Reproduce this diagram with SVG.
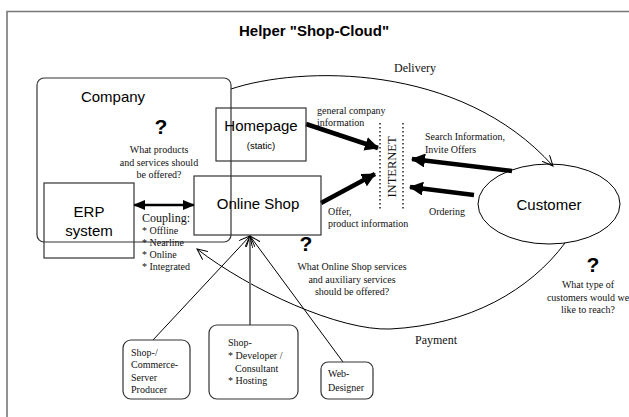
<svg xmlns="http://www.w3.org/2000/svg" width="629" height="417" viewBox="0 0 629 417">
<style>
.sans{font-family:"Liberation Sans",Arial,sans-serif;fill:#000}
.serif{font-family:"Liberation Serif","Times New Roman",serif;fill:#111}
.box{fill:none;stroke:#333;stroke-width:1.2}
.thick{stroke:#000;stroke-width:4.5;fill:none}
.thin{stroke:#000;stroke-width:1;fill:none}
.q{font-family:"Liberation Sans",Arial,sans-serif;font-weight:bold;font-size:21px;text-anchor:middle}
.s10{font-size:10px}
.mid{text-anchor:middle}
</style>
<defs>
<marker id="fat" markerUnits="userSpaceOnUse" viewBox="0 0 14 14" markerWidth="14" markerHeight="14" refX="13" refY="7" orient="auto"><path d="M0,0 L14,7 L0,14 z" fill="#000"/></marker>
<marker id="dbl" markerUnits="userSpaceOnUse" viewBox="0 0 12 10" markerWidth="12" markerHeight="10" refX="11" refY="5" orient="auto-start-reverse"><path d="M0,0 L12,5 L0,10 z" fill="#000"/></marker>
<marker id="open" markerUnits="userSpaceOnUse" viewBox="0 0 12 10" markerWidth="12" markerHeight="10" refX="11" refY="5" orient="auto"><path d="M0,0 L11,5 L0,10" fill="none" stroke="#000" stroke-width="1"/></marker>
</defs>
<path d="M7,417 V11.5 H629" fill="none" stroke="#777" stroke-width="1.6"/>
<text class="sans" x="314" y="36" font-size="15" font-weight="bold" text-anchor="middle">Helper "Shop-Cloud"</text>

<g id="connectors">
<path class="thin" d="M231,89 C300,66 460,62 553,166" marker-end="url(#open)"/>
<path class="thin" d="M565,243 C530,290 470,325 390,329 C340,331 250,290 197,249" marker-end="url(#open)"/>
<line class="thick" x1="306" y1="124" x2="378" y2="148" marker-end="url(#fat)"/>
<line class="thick" x1="321" y1="203" x2="375" y2="174" marker-end="url(#fat)"/>
<line class="thick" x1="512" y1="171" x2="412" y2="159" marker-end="url(#fat)"/>
<line class="thick" x1="474" y1="195" x2="410" y2="187" marker-end="url(#fat)"/>
<line x1="134" y1="205" x2="194" y2="205" stroke="#000" stroke-width="2.5" marker-start="url(#dbl)" marker-end="url(#dbl)"/>
<line class="thin" x1="153" y1="340" x2="250" y2="236" marker-end="url(#open)"/>
<line x1="250" y1="325" x2="250" y2="236" stroke="#777" stroke-width="2" marker-end="url(#open)"/>
<line class="thin" x1="343" y1="362" x2="250" y2="236" marker-end="url(#open)"/>
</g>

<g id="company">
<rect class="box" x="37" y="78" width="194" height="164" rx="7"/>
<text class="sans" x="113" y="102" font-size="15" text-anchor="middle">Company</text>
<text class="q" x="161" y="134">?</text>
<text class="serif s10 mid" x="159"><tspan x="159" y="153">What products</tspan><tspan x="159" y="166">and services should</tspan><tspan x="159" y="178">be offered?</tspan></text>
</g>

<g id="homepage">
<rect class="box" x="216" y="108" width="90" height="53"/>
<text class="sans" x="261" y="131" font-size="15" text-anchor="middle">Homepage</text>
<text class="sans" x="261" y="149" font-size="9.5" text-anchor="middle">(static)</text>
</g>

<g id="online-shop">
<rect class="box" x="194" y="176" width="127" height="59"/>
<text class="sans" x="258" y="209" font-size="15" text-anchor="middle">Online Shop</text>
<text class="q" x="306" y="251">?</text>
<text class="serif s10 mid"><tspan x="352" y="270">What Online Shop services</tspan><tspan x="352" y="283">and auxiliary services</tspan><tspan x="352" y="295">should be offered?</tspan></text>
</g>

<g id="erp">
<rect class="box" x="44" y="183" width="90" height="75"/>
<text class="sans" x="89" y="217" font-size="15" text-anchor="middle">ERP</text>
<text class="sans" x="89" y="236" font-size="15" text-anchor="middle">system</text>
</g>

<g id="coupling">
<text class="serif" x="142" y="222" font-size="12">Coupling:</text>
<text class="serif s10"><tspan x="142" y="234">* Offline</tspan><tspan x="142" y="246">* Nearline</tspan><tspan x="142" y="258">* Online</tspan><tspan x="142" y="270">* Integrated</tspan></text>
</g>

<g id="internet">
<line x1="380" y1="123" x2="380" y2="211" stroke="#222" stroke-width="1.5" stroke-dasharray="1.5,2.5"/>
<line x1="403" y1="123" x2="403" y2="211" stroke="#222" stroke-width="1.5" stroke-dasharray="1.5,2.5"/>
<text class="serif" transform="translate(396,167) rotate(-90)" font-size="12.5" text-anchor="middle">INTERNET</text>
</g>

<g id="labels">
<text class="serif s10"><tspan x="317" y="114">general company</tspan><tspan x="317" y="126">information</tspan></text>
<text class="serif s10"><tspan x="425" y="140">Search Information,</tspan><tspan x="425" y="153">Invite Offers</tspan></text>
<text class="serif s10"><tspan x="328" y="215">Offer,</tspan><tspan x="328" y="227">product information</tspan></text>
<text class="serif s10" x="429" y="215">Ordering</text>
<text class="serif" x="415" y="72" font-size="12" text-anchor="middle">Delivery</text>
<text class="serif" x="436" y="344" font-size="12" text-anchor="middle">Payment</text>
</g>

<g id="customer">
<ellipse cx="549" cy="204" rx="71" ry="40" fill="none" stroke="#000" stroke-width="1"/>
<text class="sans" x="549" y="210" font-size="15" text-anchor="middle">Customer</text>
<text class="q" x="593" y="272">?</text>
<text class="serif s10 mid"><tspan x="588" y="288">What type of</tspan><tspan x="588" y="301">customers would we</tspan><tspan x="588" y="313">like to reach?</tspan></text>
</g>

<g id="server-producer">
<rect class="box" x="123" y="340" width="67" height="59" rx="8"/>
<text class="serif s10"><tspan x="131" y="356">Shop-/</tspan><tspan x="131" y="368">Commerce-</tspan><tspan x="131" y="381">Server</tspan><tspan x="131" y="393">Producer</tspan></text>
</g>

<g id="developer">
<rect class="box" x="209" y="325" width="89" height="74" rx="8"/>
<text class="serif s10"><tspan x="228" y="346">Shop-</tspan><tspan x="228" y="359">* Developer /</tspan><tspan x="235" y="372">Consultant</tspan><tspan x="228" y="384">* Hosting</tspan></text>
</g>

<g id="web-designer">
<rect class="box" x="321" y="362" width="52" height="37" rx="7"/>
<text class="serif s10"><tspan x="328" y="377">Web-</tspan><tspan x="328" y="391">Designer</tspan></text>
</g>
</svg>
